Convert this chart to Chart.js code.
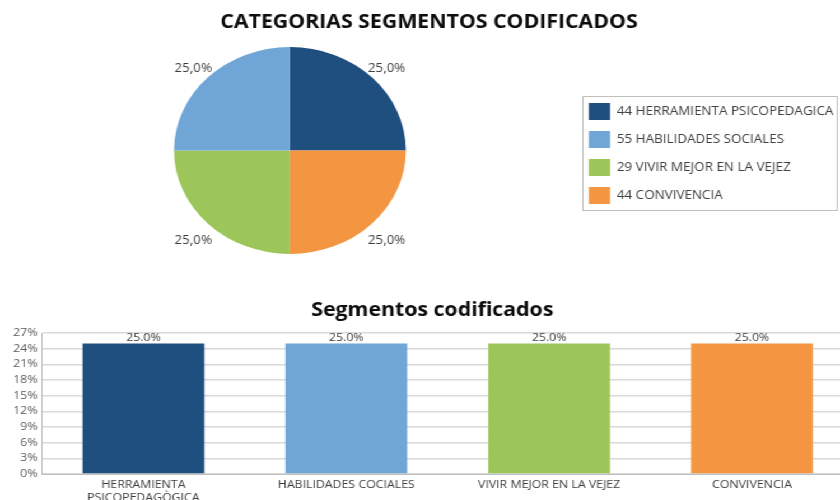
<!DOCTYPE html>
<html>
<head>
<meta charset="utf-8">
<script src="https://cdn.jsdelivr.net/npm/chart.js@4/dist/chart.umd.min.js"></script>
<style>
  html, body { margin:0; padding:0; background:#fff; overflow:hidden; width:840px; height:500px; }
  #wrap { position:absolute; left:0; top:0; width:750px; height:500px; transform:scaleX(1.12); transform-origin:0 0; overflow:hidden; }
  #pieBox { position:absolute; left:0; top:0; }
  #barBox { position:absolute; left:0; top:290px; }
</style>
</head>
<body>
<div id="wrap">
  <div id="pieBox"><canvas id="pie" width="750" height="280"></canvas></div>
  <div id="barBox"><canvas id="bar" width="762" height="210"></canvas></div>
</div>
<script>
// ---- data ----
const pieTitle = "CATEGORIAS SEGMENTOS CODIFICADOS";
const legendLabels = ["44 HERRAMIENTA PSICOPEDAGICA", "55 HABILIDADES SOCIALES", "29 VIVIR MEJOR EN LA VEJEZ", "44 CONVIVENCIA"];
const pieValues = [25.0, 25.0, 25.0, 25.0];
const colors = ["#1e4f7e", "#6fa6d6", "#9cc55a", "#f49641"];
const pieDrawOrder = [0, 3, 2, 1]; // clockwise from top as in the picture

const barTitle = "Segmentos codificados";
const barCategories = [["HERRAMIENTA", "PSICOPEDAGÒGICA"], "HABILIDADES COCIALES", "VIVIR MEJOR EN LA VEJEZ", "CONVIVENCIA"];
const barValues = [25.0, 25.0, 25.0, 25.0];
const yTicks = [0, 3, 6, 9, 12, 15, 18, 21, 24, 27];

Chart.defaults.font.family = "'Open Sans', sans-serif";
Chart.defaults.animation = false;

function shiftTitle(dx) {
  return {
    id: 'shiftTitle',
    afterLayout(chart) {
      const t = chart.titleBlock;
      if (t) { t.left += dx; t.right += dx; }
    }
  };
}

// ---- pie ----
const pieLabelPlugin = {
  id: 'pieLabels',
  afterLayout(chart) {
    const lg = chart.legend;
    if (lg) { lg.top += 3; lg.bottom += 3; }
  },
  afterDatasetsDraw(chart) {
    const ctx = chart.ctx;
    const meta = chart.getDatasetMeta(0);
    ctx.save();
    ctx.font = "12px 'Open Sans', sans-serif";
    ctx.fillStyle = '#404040';
    ctx.textAlign = 'center';
    ctx.textBaseline = 'middle';
    meta.data.forEach((arc, i) => {
      const p = arc.getProps(['x','y','startAngle','endAngle','outerRadius'], true);
      const a = (p.startAngle + p.endAngle) / 2;
      const r = p.outerRadius * 1.18;
      const v = chart.data.datasets[0].data[i];
      ctx.fillText(v.toFixed(1).replace('.', ',') + '%', p.x + Math.cos(a) * r, p.y + Math.sin(a) * r + 4);
    });
    ctx.restore();
  },
  afterDraw(chart) {
    const lg = chart.legend;
    if (!lg || !lg.legendHitBoxes.length) return;
    const hb = lg.legendHitBoxes;
    const first = hb[0], last = hb[hb.length - 1];
    const ctx = chart.ctx;
    ctx.save();
    ctx.strokeStyle = '#bfbfbf';
    ctx.lineWidth = 1;
    const left = Math.round(Math.min(...hb.map(h => h.left)) - 6) + 0.5;
    const top = Math.round(first.top + first.height / 2 - 16) + 0.5;
    const bottom = Math.round(last.top + last.height / 2 + 14) + 0.5;
    const right = chart.width - 2.5;
    ctx.strokeRect(left, top, right - left, bottom - top);
    ctx.restore();
  }
};

new Chart(document.getElementById('pie'), {
  type: 'pie',
  data: {
    labels: pieDrawOrder.map(i => legendLabels[i]),
    datasets: [{
      data: pieDrawOrder.map(i => pieValues[i]),
      backgroundColor: pieDrawOrder.map(i => colors[i]),
      borderWidth: 0
    }]
  },
  options: {
    responsive: false,
    layout: { padding: { left: 3, right: -4.1, top: 0, bottom: 26 } },
    plugins: {
      title: {
        display: true, text: pieTitle, color: '#0d0d0d',
        font: { size: 19, weight: 'bold' },
        padding: { top: 11, bottom: 13.2 }
      },
      legend: {
        position: 'right', align: 'center', fullSize: false,
        labels: {
          boxWidth: 19, boxHeight: 17, padding: 11, color: '#404040',
          font: { size: 12 },
          sort: (a, b) => legendLabels.indexOf(a.text) - legendLabels.indexOf(b.text)
        }
      },
      tooltip: { enabled: false }
    }
  },
  plugins: [pieLabelPlugin, shiftTitle(4.5)]
});

// ---- bar ----
const barLabelPlugin = {
  id: 'barLabels',
  afterDatasetsDraw(chart) {
    const ctx = chart.ctx;
    const meta = chart.getDatasetMeta(0);
    ctx.save();
    ctx.font = "11px 'Open Sans', sans-serif";
    ctx.fillStyle = '#404040';
    ctx.textAlign = 'center';
    ctx.textBaseline = 'middle';
    meta.data.forEach((bar, i) => {
      ctx.fillText(barValues[i].toFixed(1) + '%', bar.x, bar.y - 6);
    });
    ctx.restore();
  }
};

new Chart(document.getElementById('bar'), {
  type: 'bar',
  data: {
    labels: barCategories,
    datasets: [{
      data: barValues,
      backgroundColor: colors,
      borderWidth: 0,
      barPercentage: 0.6,
      categoryPercentage: 1.0
    }]
  },
  options: {
    responsive: false,
    layout: { padding: 0 },
    plugins: {
      title: {
        display: true, text: barTitle, color: '#0d0d0d',
        font: { size: 19, weight: 'bold' },
        padding: { top: 9.5, bottom: 10.7 }
      },
      legend: { display: false },
      tooltip: { enabled: false }
    },
    scales: {
      x: {
        grid: { display: false, drawTicks: false },
        border: { color: '#bfbfbf', width: 1 },
        ticks: { color: '#404040', font: { size: 11, lineHeight: 1.15 }, padding: 5, maxRotation: 0, autoSkip: false },
        afterFit(s) { s.height = 26; }
      },
      y: {
        min: 0, max: 27,
        afterBuildTicks(s) { s.ticks = yTicks.map(v => ({ value: v })); },
        grid: { color: '#d9d9d9', lineWidth: 1.5, drawTicks: false },
        border: { color: '#bfbfbf', width: 1 },
        ticks: { color: '#595959', font: { size: 11 }, padding: 4, autoSkip: false, callback: v => v + '%' },
        afterFit(s) { s.width = 37.5; }
      }
    }
  },
  plugins: [barLabelPlugin, shiftTitle(5)]
});
</script>
</body>
</html>
